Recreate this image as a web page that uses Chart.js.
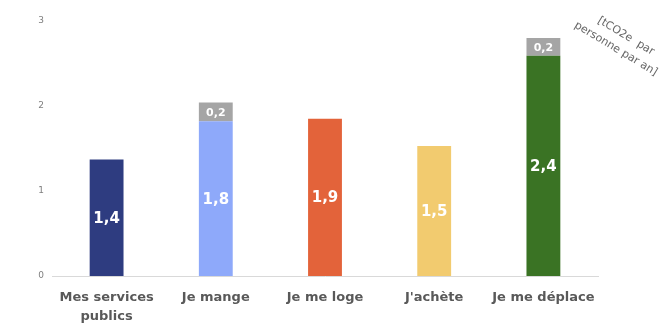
<!DOCTYPE html>
<html><head><meta charset="utf-8">
<script src="https://cdn.jsdelivr.net/npm/chart.js@4/dist/chart.umd.min.js"></script>
<style>html,body{margin:0;padding:0;background:#fff}canvas{display:block}</style>
</head><body>
<canvas id="c" width="662" height="329"></canvas>
<script>
const categories = [["Mes services","publics"], "Je mange", "Je me loge", "J'achète", "Je me déplace"];
const mainValues = [1.37, 1.82, 1.85, 1.53, 2.59];
const mainLabels = ["1,4", "1,8", "1,9", "1,5", "2,4"];
const extraValues = [null, 0.22, null, null, 0.21];
const extraLabels = ["", "0,2", "", "", "0,2"];
const barColors = ["#2E3C80", "#8EA9FA", "#E3633A", "#F2CB6F", "#3A7324"];
const extraColor = "#A5A5A5";
const yTicks = [0, 1, 2, 3];
const unitLines = ["[tCO2e  par", "personne par an]"];
const FONT = "'DejaVu Sans', sans-serif";

const labelPlugin = {
  id: 'lbl',
  afterDatasetsDraw(chart) {
    const ctx = chart.ctx;
    ctx.save();
    ctx.fillStyle = '#fff';
    ctx.textAlign = 'center';
    ctx.textBaseline = 'middle';
    chart.data.datasets.forEach((ds, di) => {
      const meta = chart.getDatasetMeta(di);
      meta.data.forEach((bar, i) => {
        const txt = ds.valueLabels[i];
        if (!txt || ds.data[i] == null) return;
        ctx.font = (di === 0 ? 'bold 15px ' : 'bold 11px ') + FONT;
        ctx.fillText(txt, bar.x, (bar.y + bar.base) / 2 + 1);
      });
    });
    // unit annotation
    ctx.fillStyle = '#666';
    ctx.font = '11px ' + FONT;
    ctx.translate(620, 42);
    ctx.rotate(31 * Math.PI / 180);
    ctx.fillText(unitLines[0], 2, -8);
    ctx.fillText(unitLines[1], 0, 8);
    ctx.restore();
  }
};

new Chart(document.getElementById('c'), {
  type: 'bar',
  data: {
    labels: categories,
    datasets: [
      { data: mainValues, valueLabels: mainLabels, backgroundColor: barColors, barPercentage: 0.31, categoryPercentage: 1 },
      { data: extraValues, valueLabels: extraLabels, backgroundColor: extraColor, barPercentage: 0.31, categoryPercentage: 1 }
    ]
  },
  options: {
    responsive: false,
    animation: false,
    layout: { padding: { left: 0, right: 64, top: 21, bottom: 0 } },
    plugins: { legend: { display: false }, tooltip: { enabled: false } },
    scales: {
      x: {
        stacked: true,
        grid: { display: false, drawTicks: false },
        border: { color: '#D9D9D9', width: 1 },
        ticks: { color: '#595959', font: { family: FONT, size: 13, weight: 'bold', lineHeight: 1.4 }, padding: 13, maxRotation: 0, autoSkip: false },
        afterFit(s) { s.height = 53; }
      },
      y: {
        stacked: true,
        min: 0, max: 3,
        afterBuildTicks(s) { s.ticks = yTicks.map(v => ({ value: v })); },
        grid: { display: false, drawTicks: false },
        border: { display: false },
        ticks: { color: '#7F7F7F', font: { family: FONT, size: 9 }, padding: 8 },
        afterFit(s) { s.width = 52; }
      }
    }
  },
  plugins: [labelPlugin]
});
</script>
</body></html>
